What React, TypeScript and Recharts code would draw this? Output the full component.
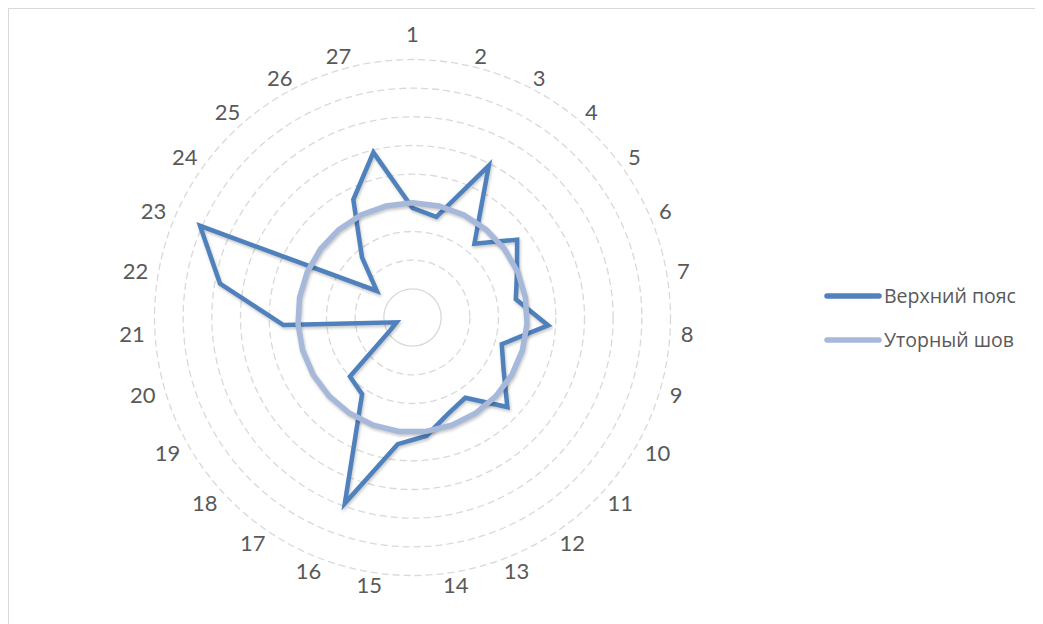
import React from "react";
import {
  RadarChart,
  Radar,
  PolarGrid,
  PolarAngleAxis,
  PolarRadiusAxis,
  Legend,
} from "recharts";

/* ---------- data ---------- */
const categories = [
  "1", "2", "3", "4", "5", "6", "7", "8", "9", "10", "11", "12", "13", "14",
  "15", "16", "17", "18", "19", "20", "21", "22", "23", "24", "25", "26", "27",
];

// Верхний пояс
const upperBelt = [
  3.82, 3.61, 5.93, 3.36, 4.55, 3.97, 3.66, 4.74, 3.25, 3.67, 4.55, 3.35, 3.59,
  4.16, 4.45, 6.9, 3.2, 3.0, 0.9, 0.58, 4.51, 6.82, 8.07, 1.55, 2.74, 4.6, 5.92,
];

// Уторный шов
const chimeSeam = [
  4, 4, 4, 4, 4, 4, 4, 4, 4, 4, 4, 4, 4, 4, 4, 4, 4, 4, 4, 4, 4, 4, 4, 4, 4, 4, 4,
];

const ringValues = [1, 2, 3, 4, 5, 6, 7, 8, 9];
const maxValue = 9;

const seriesNames = ["Верхний пояс", "Уторный шов"];

/* ---------- layout ---------- */
const W = 1034;
const H = 615;
const CX = 403.5;
const CY = 308.5;
const OUTER = 258;
const RADIAN = Math.PI / 180;

const DARK = "#4F81BD";
const LIGHT = "#A7B9DA";
const TEXT = "#595959";
const GRID = "#D9D9D9";
const FONT = "Lato, 'Open Sans', sans-serif";

const chartData = categories.map((name, i) => ({
  name,
  upper: upperBelt[i],
  seam: chimeSeam[i],
}));

const ringRadius = ringValues.map((v) => (v / maxValue) * OUTER);

// labels sit outside the last ring, pushed sideways by half their width
function AngleTick(props: any) {
  const { payload, index } = props;
  const angle =
    payload && typeof payload.coordinate === "number"
      ? payload.coordinate
      : 90 - (index * 360) / categories.length;
  const label = String(payload.value);
  const ux = Math.cos(-angle * RADIAN);
  const uy = Math.sin(-angle * RADIAN);
  const halfW = 6 * label.length;
  const side = Math.abs(ux) < 0.01 ? 0 : Math.sign(ux);
  const r = index === 0 ? 284 : 269;
  const x = CX + r * ux + side * halfW;
  const y = CY + r * uy;
  return (
    <text
      x={x}
      y={y}
      textAnchor="middle"
      dominantBaseline="central"
      fill={TEXT}
      fontSize={22}
      fontFamily={FONT}
    >
      {label}
    </text>
  );
}

function renderLegend() {
  const colors = [DARK, LIGHT];
  return (
    <div style={{ fontFamily: "'Open Sans', Lato, sans-serif", fontSize: 19.5, color: TEXT }}>
      {seriesNames.map((n, i) => (
        <div
          key={n}
          style={{ display: "flex", alignItems: "center", height: 44 }}
        >
          <svg width={58} height={10} style={{ display: "block" }}>
            <line
              x1={3}
              y1={5}
              x2={55}
              y2={5}
              stroke={colors[i]}
              strokeWidth={5.5}
              strokeLinecap="round"
            />
          </svg>
          <span style={{ marginLeft: 2, lineHeight: 1 }}>{n}</span>
        </div>
      ))}
    </div>
  );
}

export default function App() {
  return (
    <div
      style={{
        width: W,
        height: H,
        borderTop: `1px solid ${GRID}`,
        borderLeft: `1px solid ${GRID}`,
        background: "#fff",
      }}
    >
      <style>{`
        .recharts-radar-polygon path { filter: drop-shadow(1px 2px 1.5px rgba(0,0,0,0.22)); }
      `}</style>
      <RadarChart
        width={W}
        height={H}
        data={chartData}
        cx={CX}
        cy={CY}
        outerRadius={OUTER}
        margin={{ top: 0, right: 0, bottom: 0, left: 0 }}
      >
        <PolarGrid
          gridType="circle"
          radialLines={false}
          polarRadius={ringRadius.slice(1)}
          stroke={GRID}
          strokeWidth={1.3}
          strokeDasharray="7 4"
        />
        <PolarGrid
          gridType="circle"
          radialLines={false}
          polarRadius={ringRadius.slice(0, 1)}
          stroke={GRID}
          strokeWidth={1.3}
        />
        <PolarAngleAxis
          dataKey="name"
          tick={AngleTick}
          axisLine={false}
          tickLine={false}
        />
        <PolarRadiusAxis
          type="number"
          domain={[0, maxValue]}
          tickCount={10}
          tick={false}
          axisLine={false}
        />
        <Radar
          name={seriesNames[0]}
          dataKey="upper"
          stroke={DARK}
          strokeWidth={4.5}
          fill="none"
          fillOpacity={0}
          dot={false}
          isAnimationActive={false}
        />
        <Radar
          name={seriesNames[1]}
          dataKey="seam"
          stroke={LIGHT}
          strokeWidth={5.5}
          fill="none"
          fillOpacity={0}
          dot={false}
          isAnimationActive={false}
        />
        <Legend
          content={renderLegend}
          layout="vertical"
          verticalAlign="top"
          align="left"
          wrapperStyle={{ left: 815, top: 265, width: 220 }}
        />
      </RadarChart>
    </div>
  );
}
